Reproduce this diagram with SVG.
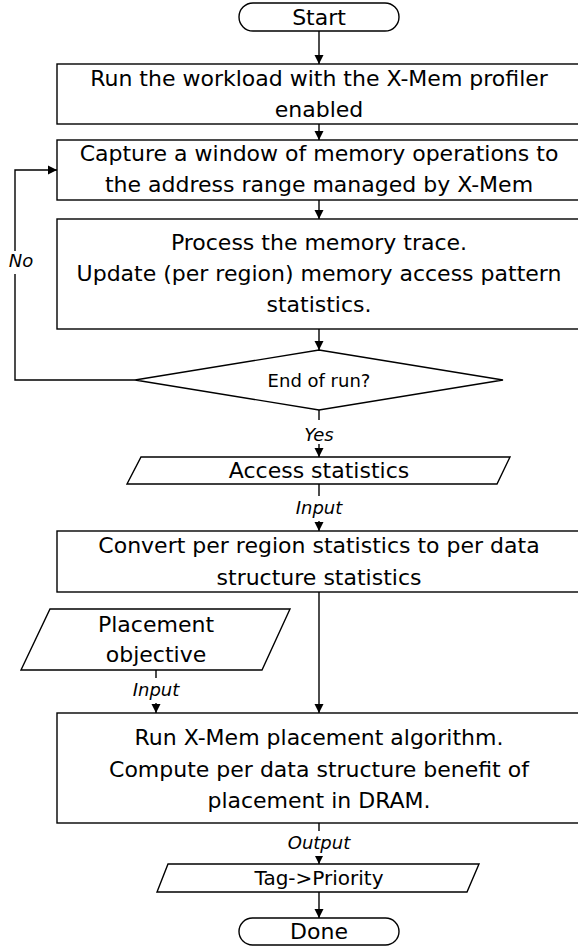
<svg xmlns="http://www.w3.org/2000/svg" width="578" height="946" viewBox="0 0 578 946">
<defs>
<marker id="arr" markerWidth="10" markerHeight="10" refX="9" refY="5" orient="auto" markerUnits="userSpaceOnUse">
<path d="M0,0.5 L9,5 L0,9.5 Z" fill="#000"/>
</marker>
<style>
.shape{fill:#fff;stroke:#000;stroke-width:1.4}
.t{font-family:"DejaVu Sans","Liberation Sans",sans-serif;font-size:22px;fill:#000;text-anchor:middle}
.s{font-size:18px}
.lbl{font-family:"DejaVu Sans","Liberation Sans",sans-serif;font-size:18px;font-style:italic;fill:#000;text-anchor:middle}
.c{fill:none;stroke:#000;stroke-width:1.4}
.bg{fill:#fff}
</style>
</defs>
<rect width="578" height="946" fill="#fff"/>
<g id="connectors">
<line class="c" x1="319" y1="31" x2="319" y2="64" marker-end="url(#arr)"/>
<line class="c" x1="319" y1="124" x2="319" y2="140" marker-end="url(#arr)"/>
<line class="c" x1="319" y1="200" x2="319" y2="219" marker-end="url(#arr)"/>
<line class="c" x1="319" y1="329" x2="319" y2="350" marker-end="url(#arr)"/>
<polyline class="c" points="135,380 15,380 15,170 57,170" marker-end="url(#arr)"/>
<rect class="bg" x="4" y="251" width="24" height="23"/>
<text class="lbl" x="21" y="267">No</text>
<line class="c" x1="319" y1="410" x2="319" y2="457" marker-end="url(#arr)"/>
<rect class="bg" x="300" y="420" width="38" height="24"/>
<text class="lbl" x="319" y="441">Yes</text>
<line class="c" x1="319" y1="484" x2="319" y2="531" marker-end="url(#arr)"/>
<rect class="bg" x="292" y="496" width="54" height="25"/>
<text class="lbl" x="319" y="514">Input</text>
<line class="c" x1="319" y1="592" x2="319" y2="713" marker-end="url(#arr)"/>
<line class="c" x1="156" y1="670" x2="156" y2="713" marker-end="url(#arr)"/>
<rect class="bg" x="128" y="678" width="56" height="25"/>
<text class="lbl" x="156" y="696">Input</text>
<line class="c" x1="319" y1="823" x2="319" y2="864" marker-end="url(#arr)"/>
<rect class="bg" x="285" y="831" width="68" height="25"/>
<text class="lbl" x="319" y="849">Output</text>
<line class="c" x1="319" y1="892" x2="319" y2="918" marker-end="url(#arr)"/>
</g>
<g id="start">
<rect class="shape" x="239" y="3" width="160" height="28" rx="14" ry="14"/>
<text class="t" x="319" y="25">Start</text>
</g>
<g id="run-workload">
<rect class="shape" x="57" y="64" width="545" height="60"/>
<text class="t" x="319" y="86">Run the workload with the X-Mem profiler</text>
<text class="t" x="319" y="117">enabled</text>
</g>
<g id="capture">
<rect class="shape" x="57" y="140" width="545" height="60"/>
<text class="t" x="319" y="161">Capture a window of memory operations to</text>
<text class="t" x="319" y="192">the address range managed by X-Mem</text>
</g>
<g id="process">
<rect class="shape" x="57" y="219" width="545" height="110"/>
<text class="t" x="319" y="250">Process the memory trace.</text>
<text class="t" x="319" y="281">Update (per region) memory access pattern</text>
<text class="t" x="319" y="312">statistics.</text>
</g>
<g id="end-of-run">
<polygon class="shape" points="319,350 503,380 319,410 135,380"/>
<text class="t s" x="319" y="387">End of run?</text>
</g>
<g id="access-statistics">
<polygon class="shape" points="141,457 510,457 497,484 127,484"/>
<text class="t" x="319" y="478">Access statistics</text>
</g>
<g id="convert">
<rect class="shape" x="57" y="531" width="545" height="61"/>
<text class="t" x="319" y="553">Convert per region statistics to per data</text>
<text class="t" x="319" y="585">structure statistics</text>
</g>
<g id="placement-objective">
<polygon class="shape" points="50,609 290,609 262,670 21,670"/>
<text class="t" x="156" y="632">Placement</text>
<text class="t" x="156" y="662">objective</text>
</g>
<g id="placement-algorithm">
<rect class="shape" x="57" y="713" width="545" height="110"/>
<text class="t" x="319" y="745">Run X-Mem placement algorithm.</text>
<text class="t" x="319" y="777">Compute per data structure benefit of</text>
<text class="t" x="319" y="808">placement in DRAM.</text>
</g>
<g id="tag-priority">
<polygon class="shape" points="168,864 479,864 467,892 157,892"/>
<text class="t" x="319" y="885" style="font-size:20px">Tag-&gt;Priority</text>
</g>
<g id="done">
<rect class="shape" x="239" y="918" width="160" height="27" rx="13.5" ry="13.5"/>
<text class="t" x="319" y="939">Done</text>
</g>
</svg>
